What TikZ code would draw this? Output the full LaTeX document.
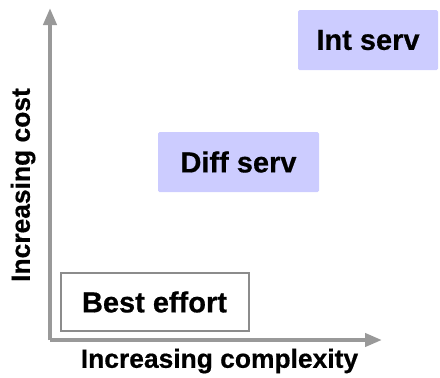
\documentclass[tikz,border=0pt]{standalone}
\usepackage{fontspec}
\setmainfont{Liberation Sans}
\newfontfamily\lbold{Liberation Sans Bold}[FakeBold=0.6]
\usetikzlibrary{arrows.meta}
\definecolor{axisgray}{HTML}{999999}
\definecolor{boxgray}{HTML}{8C8C8C}
\definecolor{lav}{HTML}{CCCCFF}
\tikzset{
  axis/.style={draw=axisgray, line width=4pt, -{Triangle[length=17pt,width=13pt]}},
  qosbox/.style={minimum height=#1, inner sep=0pt, font=\lbold\fontsize{29}{34}\selectfont},
  plainbox/.style={qosbox=58pt, draw=boxgray, line width=2pt, fill=white},
  lavbox/.style={qosbox=60pt, fill=lav, rounded corners=1.5pt},
  axislabel/.style={font=\lbold\fontsize{26.4}{30}\selectfont, inner sep=0pt}
}
\begin{document}
\begin{tikzpicture}[x=1pt,y=-1pt]
\useasboundingbox (0,0) rectangle (440,378);
\coordinate (o) at (50,340);
\coordinate (ytip) at (50,8);
\coordinate (xtip) at (382,340);
\node[plainbox, minimum width=188pt] (best) at (154.5,302) {Best effort};
\node[lavbox, minimum width=161pt] (diff) at (238.5,162) {Diff serv};
\node[lavbox, minimum width=140pt] (int) at (368,40) {Int serv};
\draw[axis] (o) -- (ytip);
\draw[axis] (o) -- (xtip);
\node[axislabel, rotate=90] (ylab) at (23,185) {Increasing cost};
\node[axislabel] (xlab) at (219.5,361) {Increasing complexity};
\end{tikzpicture}
\end{document}
